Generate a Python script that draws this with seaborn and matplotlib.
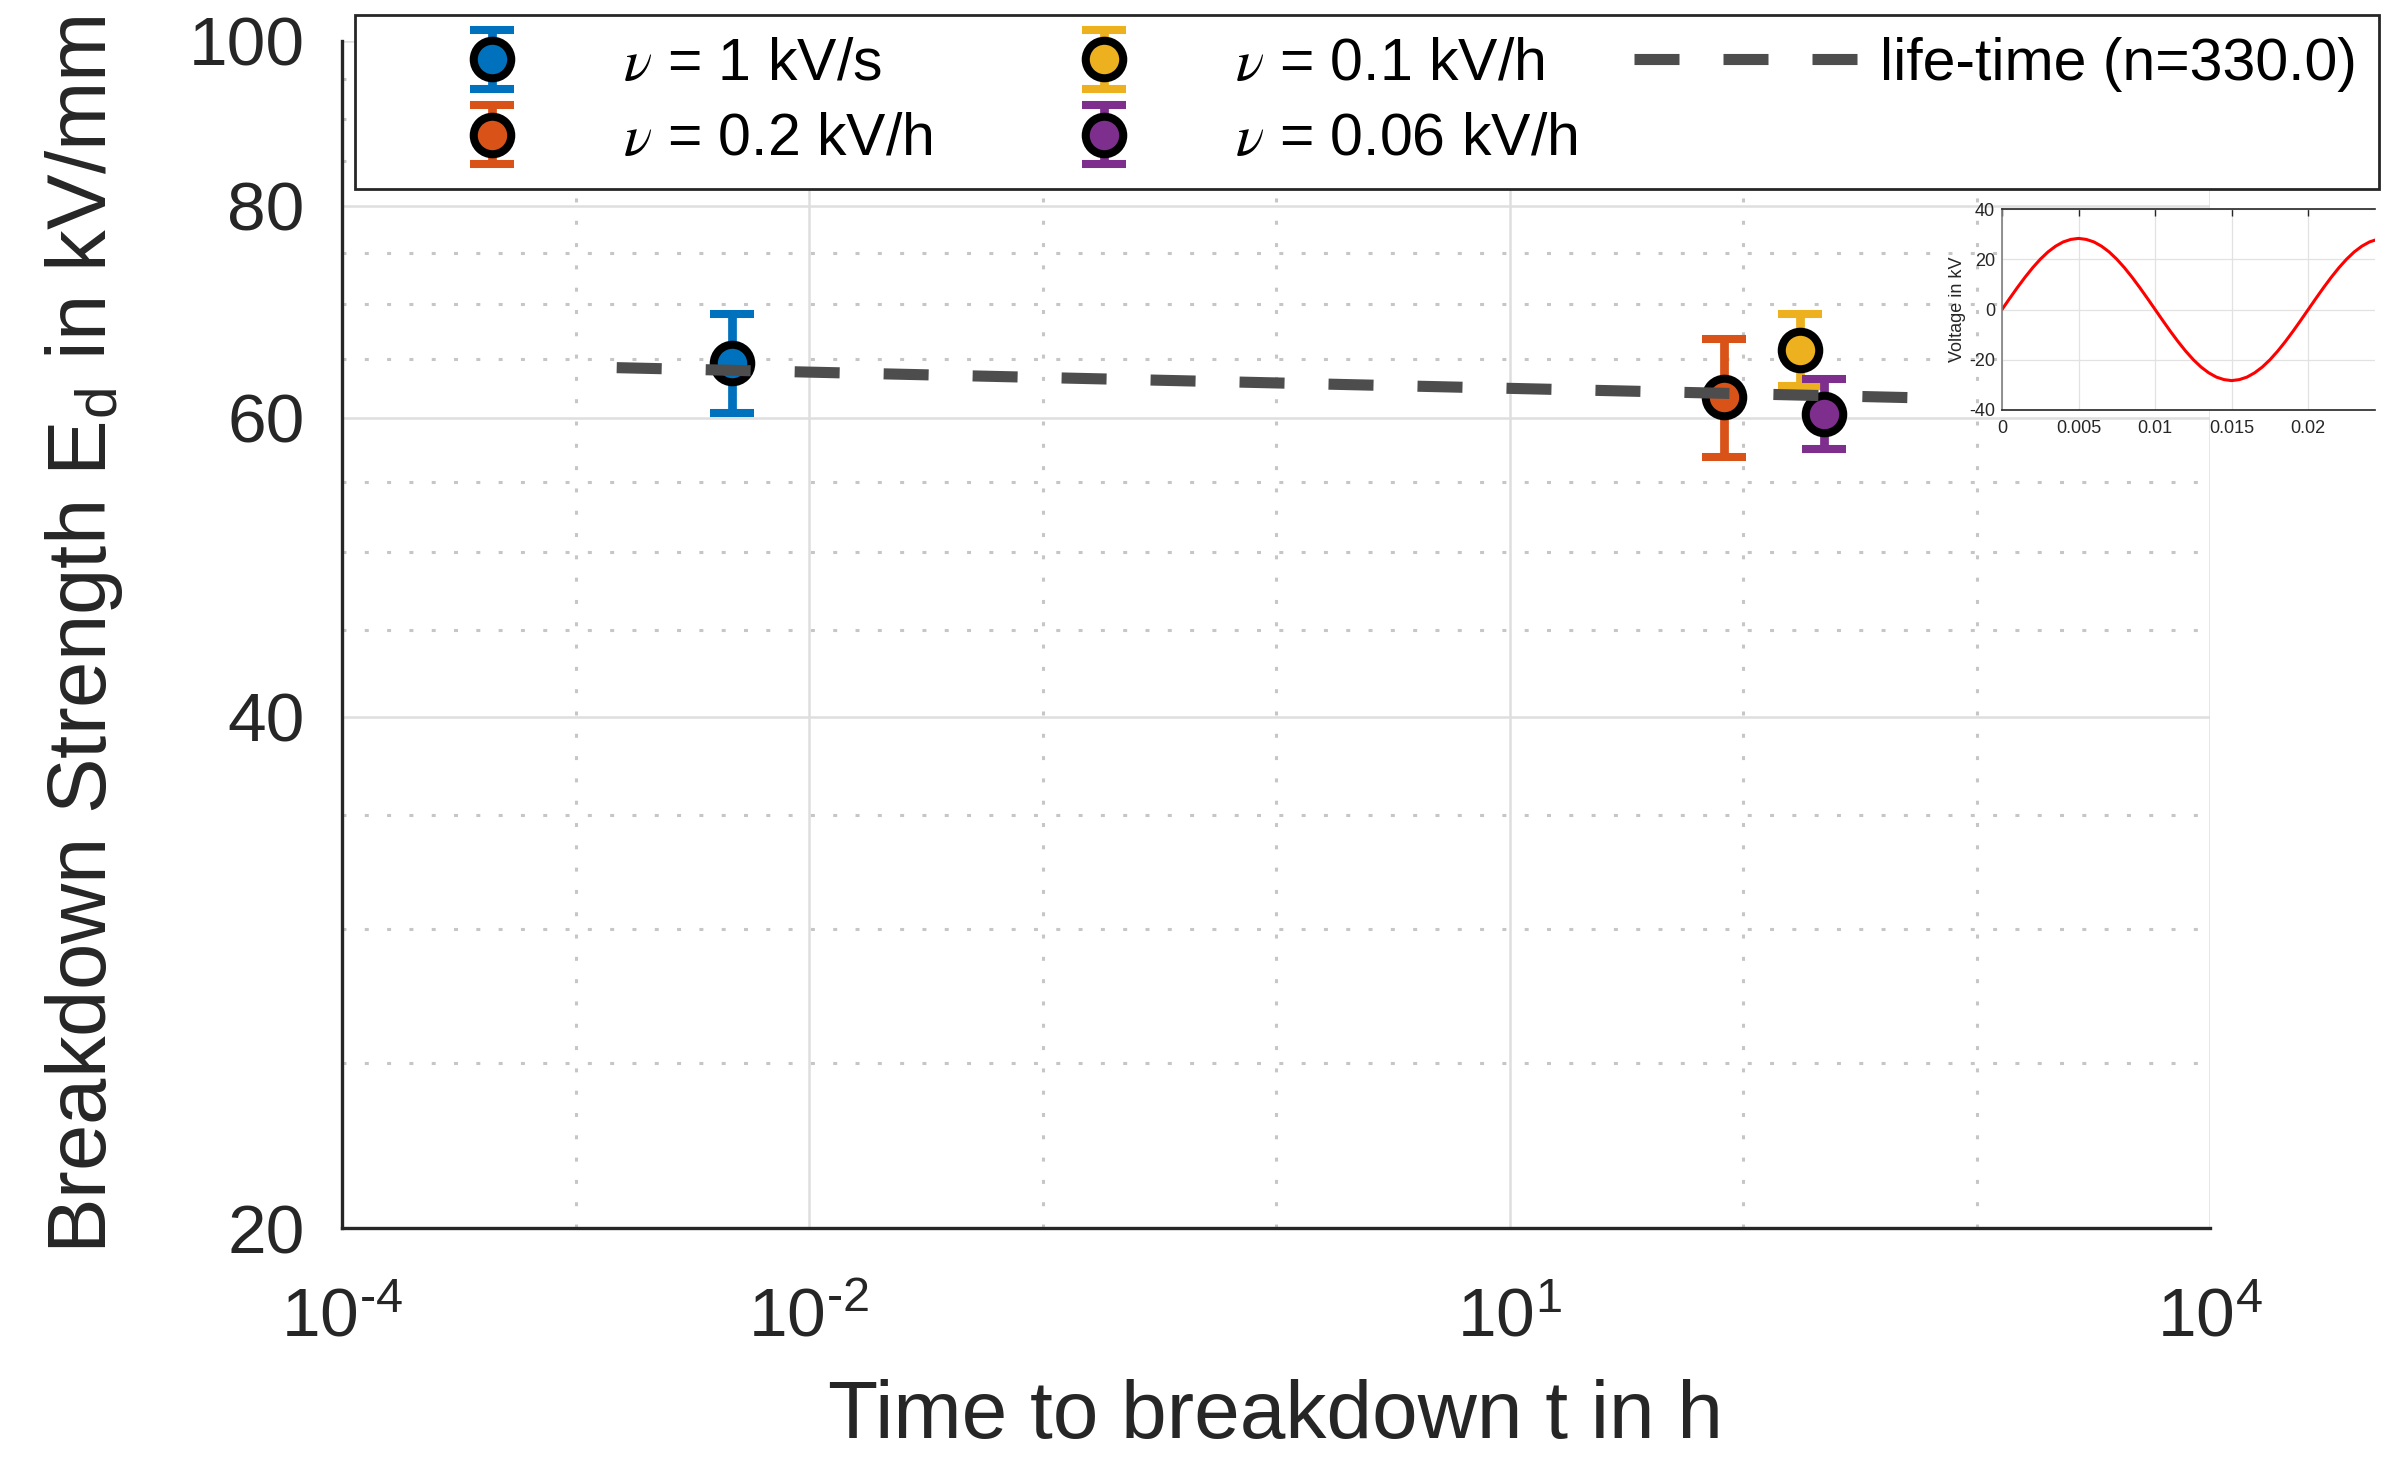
import numpy as np
import pandas as pd
import matplotlib
matplotlib.use("Agg")
import matplotlib.pyplot as plt
import seaborn as sns
from matplotlib.ticker import NullFormatter

# ---------------- data ----------------
series_labels = [r"$\nu$ = 1 kV/s", r"$\nu$ = 0.2 kV/h", r"$\nu$ = 0.1 kV/h", r"$\nu$ = 0.06 kV/h"]
series_colors = ["#0072BD", "#D95319", "#EDB120", "#7E2F8E"]
t_break = [0.00468, 83.0, 175.0, 223.0]
E_mean = [64.6, 61.7, 65.8, 60.3]
E_low = [60.4, 56.9, 62.6, 57.5]
E_high = [69.1, 66.8, 69.1, 63.2]

lifetime_label = "life-time (n=330.0)"
lifetime_t = [1e-3, 700.0]
lifetime_E = [64.3, 61.6]

x_major = [1e-4, 1e-2, 1e1, 1e4]
x_major_labels = [r"$10^{\text{-}4}$", r"$10^{\text{-}2}$", r"$10^{1}$", r"$10^{4}$"]
x_minor = [1e-3, 1e-1, 1e0, 1e2, 1e3]
y_major = [20, 40, 60, 80, 100]
y_major_labels = ["20", "40", "60", "80", "100"]
y_minor = [25, 30, 35, 45, 50, 55, 65, 70, 75, 85, 90, 95]

xlabel = "Time to breakdown t in h"
ylabel = r"Breakdown Strength $\mathrm{E}_{\mathrm{d}}$ in kV/mm"

# inset: voltage waveform
inset_t = [0.0, 0.0005, 0.001, 0.0015, 0.002, 0.0025, 0.003, 0.0035, 0.004, 0.0045,
           0.005, 0.0055, 0.006, 0.0065, 0.007, 0.0075, 0.008, 0.0085, 0.009, 0.0095,
           0.010, 0.0105, 0.011, 0.0115, 0.012, 0.0125, 0.013, 0.0135, 0.014, 0.0145,
           0.015, 0.0155, 0.016, 0.0165, 0.017, 0.0175, 0.018, 0.0185, 0.019, 0.0195,
           0.020, 0.0205, 0.021, 0.0215, 0.022, 0.0225, 0.023, 0.0235, 0.024, 0.0245]
inset_v = [0.0, 4.4, 8.7, 12.8, 16.6, 20.0, 22.9, 25.2, 26.9, 27.9,
           28.3, 27.9, 26.9, 25.2, 22.9, 20.0, 16.6, 12.8, 8.7, 4.4,
           0.0, -4.4, -8.7, -12.8, -16.6, -20.0, -22.9, -25.2, -26.9, -27.9,
           -28.3, -27.9, -26.9, -25.2, -22.9, -20.0, -16.6, -12.8, -8.7, -4.4,
           0.0, 4.4, 8.7, 12.8, 16.6, 20.0, 22.9, 25.2, 26.9, 27.9]
inset_xticks = [0, 0.005, 0.01, 0.015, 0.02]
inset_xticklabels = ["0", "0.005", "0.01", "0.015", "0.02"]
inset_yticks = [-40, -20, 0, 20, 40]
inset_yticklabels = ["-40", "-20", "0", "20", "40"]
inset_ylabel = "Voltage in kV"

# ---------------- style ----------------
sns.set_theme(style="white")
plt.rcParams["font.family"] = ["Liberation Sans", "DejaVu Sans"]
plt.rcParams["mathtext.fontset"] = "custom"
plt.rcParams["mathtext.rm"] = "Liberation Sans"
plt.rcParams["mathtext.sf"] = "Liberation Sans"
plt.rcParams["mathtext.it"] = "STIXGeneral:italic"
plt.rcParams["mathtext.bf"] = "Liberation Sans:bold"
plt.rcParams["axes.unicode_minus"] = False
DARK = "#262626"

W, H = 2386, 1457
fig = plt.figure(figsize=(W / 100, H / 100), dpi=100)
fig.patch.set_facecolor("white")

ax = fig.add_axes([342 / W, 1 - 1228 / H, (2210 - 342) / W, (1228 - 41) / H])
ax.set_xscale("log")
ax.set_yscale("log")
ax.set_xlim(1e-4, 1e4)
ax.set_ylim(20, 100)

handles = []
for lab, c, t, m, lo, hi in zip(series_labels, series_colors, t_break, E_mean, E_low, E_high):
    h = ax.errorbar([t], [m], yerr=[[m - lo], [hi - m]], fmt="o", color=c, ecolor=c,
                    mfc=c, mec="black", ms=27, mew=5.8, elinewidth=6.3,
                    capsize=16, capthick=6, label=lab, zorder=3)
    handles.append(h)

sns.lineplot(x=lifetime_t, y=lifetime_E, ax=ax, color="#4d4d4d", lw=8, zorder=4, legend=False)
ln = ax.lines[-1]
ln.set_linestyle((4.3, (4.05, 3.96)))
ln.set_label(lifetime_label)

ax.set_xticks(x_major)
ax.set_xticklabels(x_major_labels)
ax.set_xticks(x_minor, minor=True)
ax.xaxis.set_minor_formatter(NullFormatter())
ax.set_yticks(y_major)
ax.set_yticklabels(y_major_labels)
ax.set_yticks(y_minor, minor=True)
ax.yaxis.set_minor_formatter(NullFormatter())

ax.set_axisbelow(True)
ax.grid(which="major", color="#dedede", lw=1.8, ls="-")
ax.grid(which="minor", color="#c6c6c6", lw=2.2, ls=(0, (1.3, 6.0)))

ax.tick_params(which="major", direction="in", length=15, width=2.4, colors=DARK,
               labelsize=50, top=False, right=False)
ax.tick_params(which="minor", direction="in", length=8.5, width=2.4, colors=DARK,
               top=False, right=False)
ax.tick_params(axis="x", which="major", pad=42)
ax.tick_params(axis="y", which="major", pad=27)
for s in ["top", "right"]:
    ax.spines[s].set_visible(False)
for s in ["left", "bottom"]:
    ax.spines[s].set_color(DARK)
    ax.spines[s].set_linewidth(2.4)

ax.set_xlabel(xlabel, fontsize=59, color=DARK)
ax.set_ylabel(ylabel, fontsize=60, color=DARK)
ax.xaxis.set_label_coords(0.5, -0.127)
ax.yaxis.set_label_coords(-0.116, 0.5)

leg = ax.legend(handles + [ln], series_labels + [lifetime_label], ncol=3, loc="upper left",
                bbox_to_anchor=(355 / W, 1 - 186 / H, (2379 - 355) / W, 171 / H),
                bbox_transform=fig.transFigure, mode="expand", borderaxespad=0,
                fontsize=42.5, frameon=True, fancybox=False, edgecolor=DARK,
                framealpha=1, handlelength=3.9, handletextpad=0.27, borderpad=0.37,
                labelspacing=0.35, columnspacing=0.9)
leg.get_frame().set_linewidth(2)
for txt in leg.get_texts():
    txt.set_color("black")
leg.legend_handles[-1].set_linestyle((0, (4.05, 3.96)))

# ---------------- inset ----------------
ax_in = fig.add_axes([2002 / W, 1 - 410 / H, 373 / W, 201 / H])
ax_in.set_facecolor("white")
sns.lineplot(x=inset_t, y=inset_v, ax=ax_in, color="red", lw=2.2)
ax_in.set_xlim(0, 0.02436)
ax_in.set_ylim(-40, 40)
ax_in.set_xticks(inset_xticks)
ax_in.set_xticklabels(inset_xticklabels)
ax_in.set_yticks(inset_yticks)
ax_in.set_yticklabels(inset_yticklabels)
ax_in.set_axisbelow(True)
ax_in.grid(True, color="#e2e2e2", lw=0.9)
ax_in.tick_params(direction="in", length=5, width=1, colors=DARK, labelsize=13,
                  top=True, right=False)
ax_in.tick_params(axis="x", pad=7)
ax_in.tick_params(axis="y", pad=5)
ax_in.spines["right"].set_visible(False)
ax_in.spines["left"].set_color("#7f7f7f")
ax_in.spines["bottom"].set_color(DARK)
ax_in.spines["top"].set_color(DARK)
for s in ["left", "bottom", "top"]:
    ax_in.spines[s].set_linewidth(1.2)
ax_in.set_xlabel("")
ax_in.set_ylabel(inset_ylabel, fontsize=13, color=DARK, labelpad=2)

fig.savefig("out.png", dpi=100, facecolor="white")
